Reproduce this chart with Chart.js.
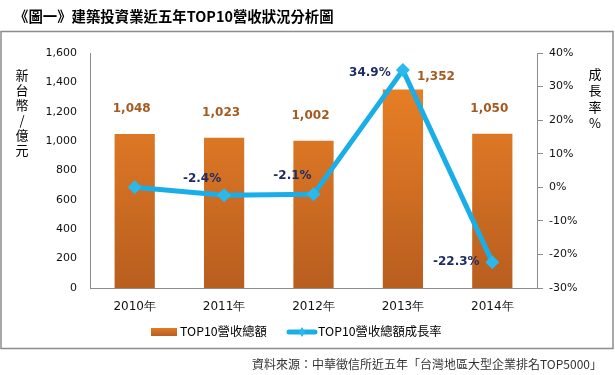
<!DOCTYPE html>
<html>
<head>
<meta charset="utf-8">
<script src="https://cdn.jsdelivr.net/npm/chart.js@4/dist/chart.umd.min.js"></script>
<style>
  html, body { margin: 0; padding: 0; background: #fff; }
  #wrap { position: relative; width: 615px; height: 375px; }
</style>
</head>
<body>
<div id="wrap"><canvas id="chart" width="615" height="375"></canvas></div>
<script>
// 資料
const years = ['2010年', '2011年', '2012年', '2013年', '2014年'];
const revenue = [1048, 1023, 1002, 1352, 1050];      // 億元
const growth = [0, -2.4, -2.1, 34.9, -22.3];          // %
const growthLabels = ['', '-2.4%', '-2.1%', '34.9%', '-22.3%'];

const FONT = '"DejaVu Sans", Verdana, sans-serif';
const CJK = '"Noto Sans CJK TC", "Noto Sans", sans-serif';

// 柱狀漸層
function barGradient(ctx) {
    const area = ctx.chart.chartArea;
    if (!area) return '#E57B25';
    const g = ctx.chart.ctx.createLinearGradient(0, area.top, 0, area.bottom);
    g.addColorStop(0, '#F08427');
    g.addColorStop(1, '#B85E1F');
    return g;
}

// 外框、標題、軸標題、圖例、數據標籤
const decor = {
    id: 'decor',
    beforeDraw(chart) {
        const c = chart.ctx;
        c.save();
        c.fillStyle = '#fff';
        c.fillRect(0, 0, chart.width, chart.height);
        c.strokeStyle = '#8c8c8c';
        c.lineWidth = 1.5;
        c.strokeRect(1, 31.5, 612, 317);
        c.restore();
    },
    afterDraw(chart) {
        const c = chart.ctx;
        c.save();
        // 標題
        c.fillStyle = '#000';
        c.textBaseline = 'middle';
        c.textAlign = 'left';
        c.font = 'bold 14.4px ' + CJK;
        c.fillText('《圖一》建築投資業近五年TOP10營收狀況分析圖', 14, 17);

        // 軸標題 (直書)
        c.font = '13px ' + CJK;
        c.textAlign = 'center';
        ['新', '台', '幣', '/', '億', '元'].forEach((ch, i) => c.fillText(ch, 22, 75 + i * 15));
        ['成', '長', '率', '%'].forEach((ch, i) => c.fillText(ch, 595, 74 + i * 16.5));

        // 柱狀數值
        const barMeta = chart.getDatasetMeta(0);
        c.font = 'bold 12px ' + FONT;
        c.fillStyle = '#A45A1F';
        barMeta.data.forEach((el, i) => {
            const dx = i === 3 ? 33 : -3;
            const dy = i === 3 ? -13 : -25;
            c.fillText(revenue[i].toLocaleString('en-US'), el.x + dx, el.y + dy);
        });

        // 成長率數值
        const lineMeta = chart.getDatasetMeta(1);
        c.fillStyle = '#1F2D63';
        const offs = [[0, 0], [-22, -16], [-21, -18], [-33, 3], [-36, 0]];
        lineMeta.data.forEach((el, i) => {
            if (!growthLabels[i]) return;
            c.fillText(growthLabels[i], el.x + offs[i][0], el.y + offs[i][1]);
        });

        // 圖例
        const lg = c.createLinearGradient(0, 328, 0, 336);
        lg.addColorStop(0, '#E07A26');
        lg.addColorStop(1, '#B85E1F');
        c.fillStyle = lg;
        c.fillRect(151, 328, 26, 8);
        c.fillStyle = '#000';
        c.textAlign = 'left';
        c.font = '12.3px ' + CJK;
        c.fillText('TOP10營收總額', 180, 331);
        c.strokeStyle = '#1AAEE8';
        c.lineWidth = 5;
        c.lineCap = 'round';
        c.beginPath();
        c.moveTo(289, 332);
        c.lineTo(315, 332);
        c.stroke();
        c.fillStyle = '#2BB8EC';
        c.beginPath();
        c.moveTo(302, 327); c.lineTo(305, 332); c.lineTo(302, 337); c.lineTo(299, 332);
        c.closePath();
        c.fill();
        c.fillStyle = '#000';
        c.fillText('TOP10營收總額成長率', 318, 331);

        // 資料來源
        c.textAlign = 'right';
        c.fillStyle = '#333';
        c.font = '12px ' + CJK;
        c.fillText('資料來源：中華徵信所近五年「台灣地區大型企業排名TOP5000」', 602, 364);
        c.restore();
    }
};

new Chart(document.getElementById('chart'), {
    data: {
        labels: years,
        datasets: [
            {
                type: 'bar',
                label: 'TOP10營收總額',
                data: revenue,
                yAxisID: 'y',
                backgroundColor: barGradient,
                barPercentage: 0.45,
                categoryPercentage: 1,
                order: 2
            },
            {
                type: 'line',
                label: 'TOP10營收總額成長率',
                data: growth,
                yAxisID: 'y1',
                borderColor: '#1AAEE8',
                borderWidth: 5,
                backgroundColor: '#2BB8EC',
                pointStyle: 'rectRot',
                pointRadius: 7,
                pointBorderWidth: 0,
                tension: 0,
                order: 1
            }
        ]
    },
    options: {
        responsive: false,
        animation: false,
        layout: { padding: { left: 0, right: 0, top: 53, bottom: 62 } },
        plugins: {
            legend: { display: false },
            tooltip: { enabled: false }
        },
        scales: {
            x: {
                grid: { display: false, drawTicks: false },
                border: { display: true, color: '#8c8c8c', width: 1 },
                ticks: { color: '#111', font: { family: FONT, size: 12 }, padding: 12 },
                afterFit: s => { s.height = 25; }
            },
            y: {
                position: 'left',
                min: 0,
                max: 1600,
                grid: { display: false, drawTicks: false },
                border: { display: true, color: '#8c8c8c', width: 1 },
                ticks: {
                    stepSize: 200,
                    color: '#111',
                    padding: 13,
                    font: { family: FONT, size: 11 },
                    callback: v => v.toLocaleString('en-US')
                },
                afterFit: s => { s.width = 90; }
            },
            y1: {
                position: 'right',
                min: -30,
                max: 40,
                grid: { drawOnChartArea: false, drawTicks: true, tickLength: 6, color: '#8c8c8c' },
                border: { display: true, color: '#8c8c8c', width: 1 },
                ticks: {
                    stepSize: 10,
                    color: '#111',
                    padding: 6,
                    font: { family: FONT, size: 11 },
                    callback: v => v + '%'
                },
                afterFit: s => { s.width = 78; }
            }
        }
    },
    plugins: [decor]
});
</script>
</body>
</html>
